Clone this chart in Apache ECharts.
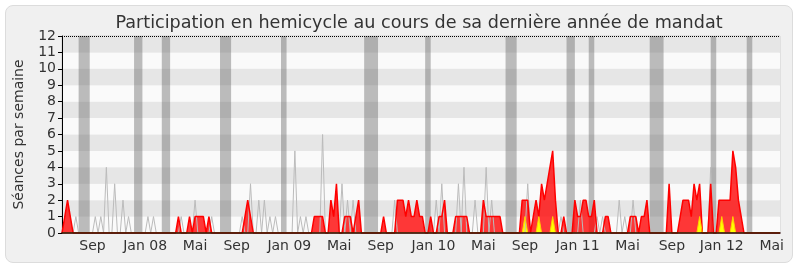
<!DOCTYPE html>
<html>
<head>
<meta charset="utf-8">
<script src="https://cdn.jsdelivr.net/npm/echarts@6/dist/echarts.min.js"></script>
<style>
  body { margin: 0; background: #fff; }
  #panel { position: absolute; left: 5px; top: 5px; width: 786px; height: 256px;
    background: #f0f0f0; border: 1px solid #dcdcdc; border-radius: 8px; }
  #chart { position: absolute; left: 0; top: 0; width: 800px; height: 267px; }
</style>
</head>
<body>
<div id="panel"></div>
<div id="chart"></div>
<script>
// une valeur par semaine, de juin 2007 a juin 2012 (260 semaines)
const presenceHemicycle = [
  0,1,2,1,0,0,0,0,0,0, 0,0,0,0,0,0,0,0,0,0,
  0,0,0,0,0,0,0,0,0,0, 0,0,0,0,0,0,0,0,0,0,
  0,0,1,0,0,0,1,0,1,1, 1,1,0,1,0,0,0,0,0,0,
  0,0,0,0,0,0,1,2,1,0, 0,0,0,0,0,0,0,0,0,0,
  0,0,0,0,0,0,0,0,0,0, 0,1,1,1,1,0,0,2,1,3,
  0,0,1,1,1,0,1,2,0,0, 0,0,0,0,0,0,1,0,0,0,
  0,2,2,2,1,2,1,1,2,1, 1,0,0,1,0,0,1,1,2,0,
  0,0,1,1,1,1,1,0,0,0, 0,0,2,1,1,1,1,1,1,0,
  0,0,0,0,0,0,2,2,2,0, 1,2,1,3,2,3,4,5,2,0,
  0,1,0,0,0,2,1,1,2,2, 1,1,2,0,0,0,1,1,0,0,
  0,0,0,0,0,1,1,1,0,1, 1,2,0,0,0,0,0,0,0,3,
  0,0,0,1,2,2,2,1,3,2, 3,0,0,0,3,0,0,2,2,2,
  2,2,5,4,2,1,0,0,0,0, 0,0,0,0,0,0,0,0,0,0
];
const presenceMediane = [
  0,0,0,0,0,1,0,0,0,0, 0,0,1,0,1,0,4,0,0,3,
  0,0,2,0,1,0,0,0,0,0, 0,1,0,1,0,0,0,0,0,0,
  0,0,0,1,0,0,0,0,2,0, 0,0,0,0,1,0,0,0,0,0,
  0,0,0,0,0,1,0,0,3,0, 0,2,0,2,0,1,0,1,0,0,
  0,0,0,0,5,0,1,0,1,0, 0,0,0,0,6,0,0,0,0,0,
  0,3,0,2,0,2,0,0,0,0, 0,0,0,0,0,0,0,0,0,0,
  2,0,0,0,0,0,0,0,0,0, 0,0,0,0,0,2,0,3,0,0,
  0,0,0,3,0,4,0,0,0,2, 0,0,0,4,0,2,0,0,0,0,
  0,0,0,0,0,0,0,0,3,0, 0,0,0,0,0,0,0,0,0,0,
  1,0,0,0,0,0,0,2,0,0, 0,0,0,1,0,1,0,0,0,0,
  0,2,0,1,0,0,2,0,0,0, 0,0,0,0,0,0,0,0,0,0,
  0,0,0,0,0,0,0,0,0,0, 0,0,0,0,4,0,0,0,0,0,
  0,0,0,0,0,0,0,0,0,0, 0,0,0,0,0,0,0,0,0,0
];
const interventions = [
  0,0,0,0,0,0,0,0,0,0, 0,0,0,0,0,0,0,0,0,0,
  0,0,0,0,0,0,0,0,0,0, 0,0,0,0,0,0,0,0,0,0,
  0,0,0,0,0,0,0,0,0,0, 0,0,0,0,0,0,0,0,0,0,
  0,0,0,0,0,0,0,0,0,0, 0,0,0,0,0,0,0,0,0,0,
  0,0,0,0,0,0,0,0,0,0, 0,0,0,0,0,0,0,0,0,0,
  0,0,0,0,0,0,0,0,0,0, 0,0,0,0,0,0,0,0,0,0,
  0,0,0,0,0,0,0,0,0,0, 0,0,0,0,0,0,0,0,0,0,
  0,0,0,0,0,0,0,0,0,0, 0,0,0,0,0,0,0,0,0,0,
  0,0,0,0,0,0,0,1,0,0, 0,0,1,0,0,0,0,1,0,0,
  0,0,0,0,0,0,0,0,0,0, 0,0,0,0,0,0,0,0,0,0,
  0,0,0,0,0,0,0,0,0,0, 0,0,0,0,0,0,0,0,0,0,
  0,0,0,0,0,0,0,0,0,0, 1,0,0,0,0,0,0,0,1,0,
  0,0,1,0,0,0,0,0,0,0, 0,0,0,0,0,0,0,0,0,0
];
// vacances parlementaires (semaine debut, semaine fin)
const vacances = [[6,10],[26,29],[36,39],[57,61],[79,81],[109,114],[131,133],
  [160,164],[182,185],[190,192],[212,217],[234,236],[247,249]];
// etiquettes de mois : index de semaine
const moisSemaine = [11, 30, 48, 63, 82, 100, 115, 134, 152, 167, 186, 204, 220, 238, 256];
const moisLabels = ['Sep','Jan 08','Mai','Sep','Jan 09','Mai','Sep','Jan 10','Mai','Sep','Jan 11','Mai','Sep','Jan 12','Mai'];

const semaines = presenceHemicycle.map((_, i) => String(i));
const font = 'DejaVu Sans';

const chart = echarts.init(document.getElementById('chart'), null, { renderer: 'canvas' });
chart.setOption({
  animation: false,
  backgroundColor: 'transparent',
  textStyle: { fontFamily: font },
  title: {
    text: 'Participation en hemicycle au cours de sa dernière année de mandat',
    left: 414, top: 9, textAlign: 'center',
    textStyle: { fontFamily: font, fontSize: 17.6, fontWeight: 'normal', color: '#333' }
  },
  grid: { left: 62, right: 20, top: 36, bottom: 34, show: true, borderColor: '#d0d0d0', borderWidth: 1 },
  xAxis: {
    type: 'category',
    data: semaines,
    boundaryGap: false,
    z: 10,
    axisLine: { lineStyle: { color: '#2a0000', width: 1.5 } },
    axisTick: { show: false },
    splitLine: { show: false },
    axisLabel: {
      color: '#333', fontSize: 14, margin: 6,
      interval: (i) => moisSemaine.includes(i),
      formatter: (v, i) => moisLabels[moisSemaine.indexOf(i)] || ''
    }
  },
  yAxis: {
    type: 'value',
    min: 0, max: 12, interval: 1,
    name: 'Séances par semaine',
    nameLocation: 'middle',
    nameGap: 36,
    nameTextStyle: { fontSize: 14, color: '#333' },
    axisLine: { show: true, lineStyle: { color: '#000' } },
    axisTick: { show: true, length: 4, lineStyle: { color: '#000' } },
    axisLabel: { color: '#333', fontSize: 14, margin: 6 },
    splitLine: { show: false },
    splitArea: { show: true, areaStyle: { color: ['#fafafa', '#e6e6e6'] } }
  },
  series: [
    {
      name: 'Présence médiane',
      type: 'line',
      data: presenceMediane,
      symbol: 'none',
      lineStyle: { color: '#bbbbbb', width: 1 },
      markArea: {
        silent: true,
        itemStyle: { color: 'rgba(100,100,100,0.42)' },
        data: vacances.map(v => [{ xAxis: String(v[0]) }, { xAxis: String(v[1]) }])
      },
      markLine: {
        silent: true, symbol: 'none', label: { show: false },
        lineStyle: { color: '#000', type: 'dotted', width: 1 },
        data: [{ yAxis: 12 }]
      }
    },
    {
      name: 'Présences',
      type: 'line',
      data: presenceHemicycle,
      symbol: 'none',
      lineStyle: { color: '#ff0000', width: 1.5 },
      areaStyle: { color: 'rgba(255,0,0,0.78)', opacity: 1 }
    },
    {
      name: 'Interventions',
      type: 'line',
      data: interventions,
      symbol: 'none',
      lineStyle: { color: '#ffd000', width: 1 },
      areaStyle: { color: '#ffff00', opacity: 1 }
    }
  ]
});
</script>
</body>
</html>
